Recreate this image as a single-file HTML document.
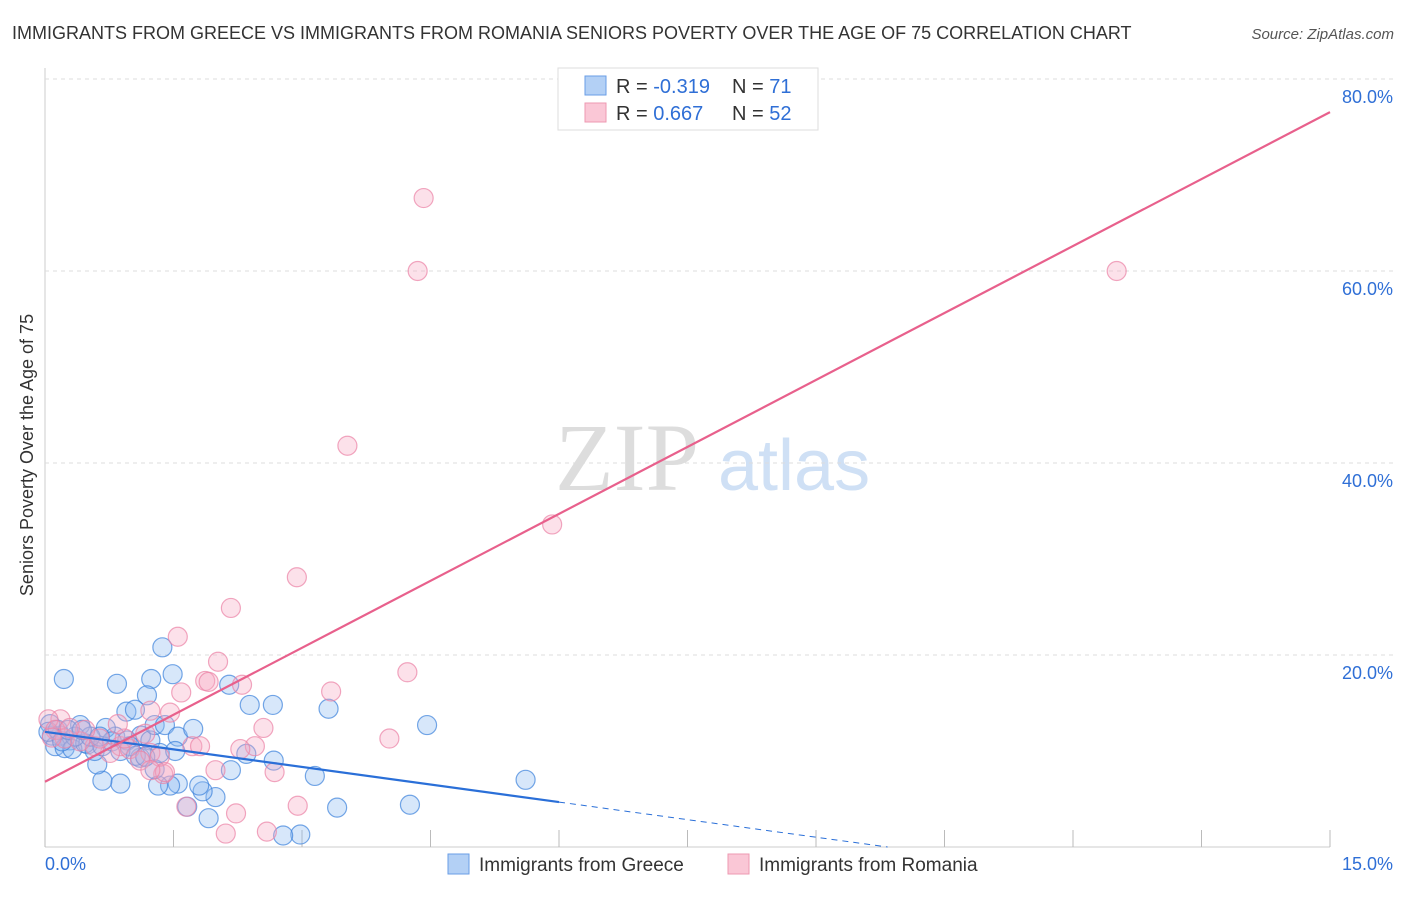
<!DOCTYPE html>
<html><head><meta charset="utf-8"><style>
body{margin:0;background:#fff;font-family:"Liberation Sans",sans-serif;}
</style></head><body>
<svg id="chart" width="1406" height="892" xmlns="http://www.w3.org/2000/svg" font-family="Liberation Sans, sans-serif">
<text x="12" y="39" font-size="18" fill="#333">IMMIGRANTS FROM GREECE VS IMMIGRANTS FROM ROMANIA SENIORS POVERTY OVER THE AGE OF 75 CORRELATION CHART</text>
<text x="1394" y="39" font-size="15" fill="#555" font-style="italic" text-anchor="end">Source: ZipAtlas.com</text>
<text transform="translate(33,455) rotate(-90)" font-size="18" fill="#333" text-anchor="middle">Seniors Poverty Over the Age of 75</text>
<g font-size="96">
<text x="555" y="490" fill="#ddd" font-family="Liberation Serif, serif">ZIP</text>
<text x="718" y="490" fill="#cfe0f5" font-size="72">atlas</text>
</g>
<g id="grid"></g><g id="pts"></g><g id="lines"></g>
<g>
<rect x="558" y="68" width="260" height="62" fill="#fff" stroke="#ddd"/>
<rect x="585" y="76" width="21" height="19" fill="#b3d0f5" stroke="#6a9ee6"/>
<rect x="585" y="103" width="21" height="19" fill="#fac7d6" stroke="#ee98b1"/>
<text x="616" y="93" font-size="20" fill="#333">R = <tspan fill="#2f6fd6">-0.319</tspan></text>
<text x="732" y="93" font-size="20" fill="#333">N = <tspan fill="#2f6fd6"> 71</tspan></text>
<text x="616" y="120" font-size="20" fill="#333">R = <tspan fill="#2f6fd6"> 0.667</tspan></text>
<text x="732" y="120" font-size="20" fill="#333">N = <tspan fill="#2f6fd6">52</tspan></text>
</g>
<g>
<rect x="448" y="854" width="21" height="20" fill="#b3d0f5" stroke="#6a9ee6"/>
<text x="479" y="871" font-size="19" fill="#333">Immigrants from Greece</text>
<rect x="728" y="854" width="21" height="20" fill="#fac7d6" stroke="#ee98b1"/>
<text x="759" y="871" font-size="19" fill="#333">Immigrants from Romania</text>
</g>
<text x="45" y="870" font-size="18" fill="#2f6fd6">0.0%</text>
<text x="1393" y="870" font-size="18" fill="#2f6fd6" text-anchor="end">15.0%</text>
</svg>
<script>
const yTicks=[20,40,60,80];
const yTickLabels=["20.0%","40.0%","60.0%","80.0%"];
const xTicks=[0,1.5,3,4.5,6,7.5,9,10.5,12,13.5,15];
// pixel->data estimates of points
const greeceX=[0.22,0.84,1.37,1.49,1.24,1.19,2.15,2.39,2.66,3.31,4.46,5.61,4.26,3.41,2.98,2.78,3.15,2.67,2.35,2.17,1.91,1.99,1.84,1.80,1.66,1.55,1.46,1.32,1.28,1.11,0.88,0.67,0.61,0.82,0.96,1.12,1.23,1.28,1.40,1.55,1.73,0.95,1.05,0.71,0.50,0.41,0.29,0.18,0.08,0.06,0.12,0.23,0.32,0.47,0.58,0.67,0.78,0.99,1.34,1.52,0.04,0.15,0.35,0.53,0.64,0.88,1.06,1.17,0.20,0.27,0.43];
const greeceY=[17.5,17.0,20.8,18.0,17.5,15.8,16.9,14.8,14.8,14.4,12.7,7.0,4.4,4.1,1.3,1.2,7.4,9.0,9.7,8.0,3.0,5.2,5.8,6.4,4.2,6.6,6.4,6.4,8.1,9.3,6.6,6.9,8.6,11.5,11.1,11.6,11.1,12.7,12.7,11.5,12.3,14.1,14.3,12.4,10.7,12.7,11.1,11.6,11.6,12.8,10.5,10.3,10.2,10.8,10.0,10.5,11.0,10.5,9.8,10.0,12.0,12.2,11.5,11.5,11.5,10.0,9.5,9.4,11.0,12.2,12.2];
const romaniaX=[4.42,4.35,12.51,3.53,5.92,2.94,2.17,1.55,2.02,4.23,1.59,1.87,1.91,2.30,3.34,2.55,4.02,2.45,1.72,2.68,1.99,1.38,1.65,2.95,2.23,2.59,2.11,1.23,1.46,0.88,0.99,1.23,1.11,0.76,0.58,0.18,0.04,0.12,0.23,0.41,0.64,0.93,1.34,1.40,1.23,1.81,2.28,0.47,0.29,0.08,0.85,1.17];
const romaniaY=[67.6,60.0,60.0,41.8,33.6,28.1,24.9,21.9,19.3,18.2,16.1,17.3,17.2,16.9,16.2,12.4,11.3,10.5,10.5,7.8,8.0,7.6,4.2,4.3,3.5,1.6,1.4,14.2,14.0,10.5,10.2,9.8,9.0,9.8,10.5,13.3,13.3,12.2,11.3,11.0,11.3,11.3,9.4,7.8,8.0,10.5,10.2,12.2,12.4,11.4,12.8,11.8];
const greeceTrend=[12.0,-1.22]; // intercept, slope per %
const romaniaTrend=[6.8,4.65];
const NS="http://www.w3.org/2000/svg";
const xs=v=>45+v*(1330-45)/15;
const ys=v=>847-v*9.6;
function mk(tag,attrs,parent){const e=document.createElementNS(NS,tag);for(const k in attrs)e.setAttribute(k,attrs[k]);parent.appendChild(e);return e;}
const svg=document.getElementById('chart');
const grid=document.getElementById('grid');
let ax=mk('line',{x1:45,y1:68,x2:45,y2:847,stroke:'#ccc'},grid);


let bx=mk('line',{x1:45,y1:847,x2:1330,y2:847,stroke:'#ccc'},grid);


yTicks.forEach((t,i)=>{
 const g=mk('line',{x1:45,y1:ys(t),x2:1394,y2:ys(t),stroke:'#ddd','stroke-dasharray':'4,4'},grid);
 
 
 const tx=mk('text',{x:1393,y:ys(t)+24,'font-size':18,fill:'#2f6fd6','text-anchor':'end'},grid);
 tx.textContent=yTickLabels[i];
 
 
});
xTicks.forEach(t=>{
 const l=mk('line',{x1:xs(t),y1:830,x2:xs(t),y2:847,stroke:'#bbb'},grid);
 
 
});
const pts=document.getElementById('pts');
greeceX.forEach((x,i)=>{
 const c=mk('circle',{cx:xs(x),cy:ys(greeceY[i]),r:9.5,fill:'rgba(140,185,240,0.35)',stroke:'rgba(60,130,220,0.7)','stroke-width':1.2},pts);
 
 
});
romaniaX.forEach((x,i)=>{
 const c=mk('circle',{cx:xs(x),cy:ys(romaniaY[i]),r:9.5,fill:'rgba(245,170,195,0.35)',stroke:'rgba(235,130,165,0.7)','stroke-width':1.2},pts);
 
 
});
const lines=document.getElementById('lines');
const gEnd=6, gZero=-greeceTrend[0]/greeceTrend[1];
let l1=mk('line',{x1:xs(0),y1:ys(greeceTrend[0]),x2:xs(gEnd),y2:ys(greeceTrend[0]+greeceTrend[1]*gEnd),stroke:'#2a6fd8','stroke-width':2.2},lines);


let l2=mk('line',{x1:xs(gEnd),y1:ys(greeceTrend[0]+greeceTrend[1]*gEnd),x2:xs(gZero),y2:ys(0),stroke:'#2a6fd8','stroke-width':1,'stroke-dasharray':'6,5'},lines);


let l3=mk('line',{x1:xs(0),y1:ys(romaniaTrend[0]),x2:xs(15),y2:ys(romaniaTrend[0]+romaniaTrend[1]*15),stroke:'#e8608c','stroke-width':2.2},lines);


</script>
</body></html>
